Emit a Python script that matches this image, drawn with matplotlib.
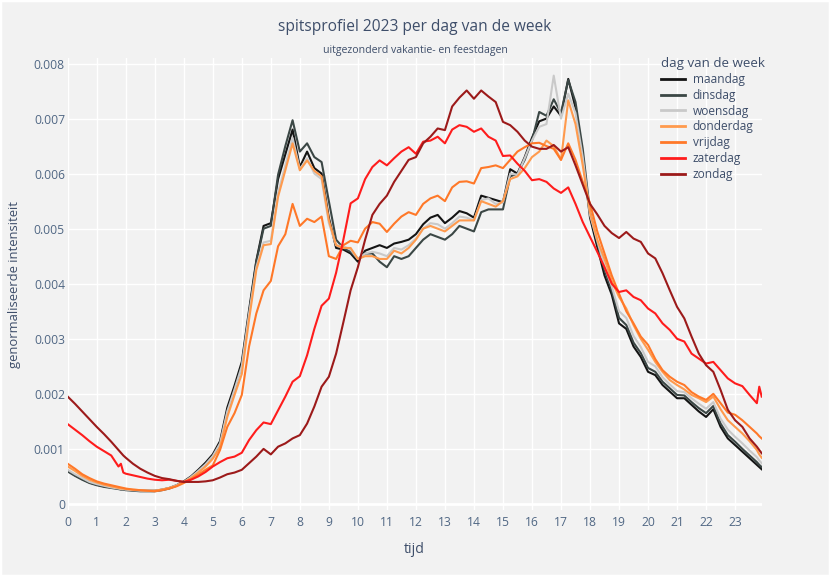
import matplotlib
matplotlib.use("Agg")
import matplotlib.pyplot as plt
from matplotlib.patches import Rectangle

# ---------------- data ----------------
hours = ([i / 4 for i in range(8)] + [1.833, 1.917]
         + [i / 4 for i in range(8, 96)] + [23.833, 23.917])

maandag = [
    0.00060, 0.00052, 0.00045, 0.00039, 0.00035, 0.00032, 0.00030, 0.00028,
    0.00027, 0.00027,
    0.00026, 0.00025, 0.00024, 0.00024, 0.00024, 0.00026, 0.00029, 0.00034,
    0.00041, 0.00050, 0.00062, 0.00075, 0.00090, 0.00114, 0.00175, 0.00215,
    0.00258, 0.00352, 0.00442, 0.00505, 0.00510, 0.00590, 0.00635, 0.00680,
    0.00612, 0.00640, 0.00610, 0.00600, 0.00520, 0.00465, 0.00462, 0.00455,
    0.00440, 0.00460, 0.00465, 0.00470, 0.00465, 0.00473, 0.00476, 0.00480,
    0.00490, 0.00508, 0.00520, 0.00525, 0.00510, 0.00520, 0.00532, 0.00528,
    0.00520, 0.00560, 0.00556, 0.00552, 0.00548, 0.00608, 0.00600, 0.00630,
    0.00665, 0.00695, 0.00700, 0.00722, 0.00705, 0.00772, 0.00720, 0.00630,
    0.00520, 0.00467, 0.00415, 0.00380, 0.00328, 0.00318, 0.00286, 0.00267,
    0.00240, 0.00234, 0.00216, 0.00204, 0.00192, 0.00192, 0.00180, 0.00168,
    0.00158, 0.00172, 0.00140, 0.00119, 0.00107, 0.00095, 0.00083, 0.00071,
    0.00067, 0.00063]

dinsdag = [
    0.00059, 0.00051, 0.00044, 0.00038, 0.00034, 0.00031, 0.00029, 0.00027,
    0.00026, 0.00026,
    0.00025, 0.00024, 0.00023, 0.00023, 0.00023, 0.00025, 0.00028, 0.00033,
    0.00040, 0.00048, 0.00059, 0.00071, 0.00086, 0.00108, 0.00168, 0.00208,
    0.00252, 0.00345, 0.00440, 0.00500, 0.00505, 0.00598, 0.00650, 0.00697,
    0.00640, 0.00655, 0.00630, 0.00621, 0.00550, 0.00480, 0.00465, 0.00458,
    0.00445, 0.00455, 0.00455, 0.00440, 0.00430, 0.00450, 0.00445, 0.00450,
    0.00465, 0.00480, 0.00490, 0.00485, 0.00480, 0.00490, 0.00505, 0.00500,
    0.00495, 0.00530, 0.00535, 0.00535, 0.00535, 0.00595, 0.00600, 0.00625,
    0.00660, 0.00712, 0.00705, 0.00735, 0.00710, 0.00770, 0.00730, 0.00645,
    0.00530, 0.00475, 0.00425, 0.00388, 0.00338, 0.00325, 0.00293, 0.00274,
    0.00247, 0.00240, 0.00222, 0.00210, 0.00198, 0.00197, 0.00185, 0.00174,
    0.00165, 0.00178, 0.00146, 0.00125, 0.00113, 0.00100, 0.00088, 0.00076,
    0.00071, 0.00067]

woensdag = [
    0.00062, 0.00054, 0.00047, 0.00040, 0.00036, 0.00033, 0.00030, 0.00028,
    0.00027, 0.00027,
    0.00026, 0.00025, 0.00024, 0.00024, 0.00024, 0.00026, 0.00029, 0.00034,
    0.00040, 0.00049, 0.00060, 0.00072, 0.00087, 0.00110, 0.00168, 0.00208,
    0.00250, 0.00345, 0.00430, 0.00475, 0.00478, 0.00565, 0.00615, 0.00665,
    0.00608, 0.00628, 0.00600, 0.00590, 0.00510, 0.00470, 0.00468, 0.00462,
    0.00445, 0.00455, 0.00458, 0.00455, 0.00450, 0.00465, 0.00462, 0.00470,
    0.00482, 0.00500, 0.00510, 0.00508, 0.00500, 0.00510, 0.00522, 0.00520,
    0.00515, 0.00552, 0.00555, 0.00545, 0.00548, 0.00600, 0.00598, 0.00628,
    0.00660, 0.00685, 0.00690, 0.00778, 0.00700, 0.00745, 0.00710, 0.00630,
    0.00525, 0.00478, 0.00432, 0.00395, 0.00350, 0.00338, 0.00305, 0.00285,
    0.00258, 0.00250, 0.00230, 0.00217, 0.00205, 0.00203, 0.00192, 0.00182,
    0.00173, 0.00185, 0.00155, 0.00135, 0.00122, 0.00110, 0.00097, 0.00085,
    0.00079, 0.00074]

donderdag = [
    0.00068, 0.00060, 0.00051, 0.00044, 0.00039, 0.00035, 0.00032, 0.00029,
    0.00028, 0.00028,
    0.00027, 0.00026, 0.00025, 0.00024, 0.00024, 0.00026, 0.00029, 0.00033,
    0.00040, 0.00047, 0.00057, 0.00068, 0.00082, 0.00103, 0.00158, 0.00198,
    0.00236, 0.00335, 0.00425, 0.00470, 0.00472, 0.00558, 0.00606, 0.00655,
    0.00606, 0.00624, 0.00605, 0.00595, 0.00515, 0.00470, 0.00465, 0.00465,
    0.00445, 0.00450, 0.00450, 0.00445, 0.00445, 0.00460, 0.00455, 0.00465,
    0.00480, 0.00500, 0.00505, 0.00500, 0.00495, 0.00505, 0.00515, 0.00515,
    0.00515, 0.00550, 0.00545, 0.00540, 0.00550, 0.00590, 0.00595, 0.00610,
    0.00630, 0.00640, 0.00660, 0.00650, 0.00625, 0.00733, 0.00690, 0.00615,
    0.00530, 0.00480, 0.00445, 0.00405, 0.00376, 0.00355, 0.00325, 0.00300,
    0.00280, 0.00258, 0.00240, 0.00225, 0.00216, 0.00208, 0.00198, 0.00192,
    0.00185, 0.00195, 0.00172, 0.00152, 0.00140, 0.00128, 0.00114, 0.00098,
    0.00090, 0.00084]

vrijdag = [
    0.00073, 0.00064, 0.00054, 0.00047, 0.00041, 0.00037, 0.00034, 0.00031,
    0.00030, 0.00029,
    0.00028, 0.00026, 0.00025, 0.00024, 0.00023, 0.00025, 0.00028, 0.00032,
    0.00038, 0.00045, 0.00053, 0.00062, 0.00070, 0.00098, 0.00140, 0.00165,
    0.00198, 0.00286, 0.00346, 0.00388, 0.00405, 0.00468, 0.00490, 0.00545,
    0.00505, 0.00518, 0.00512, 0.00522, 0.00450, 0.00445, 0.00470, 0.00478,
    0.00475, 0.00500, 0.00512, 0.00509, 0.00494, 0.00509, 0.00522, 0.00530,
    0.00525, 0.00545, 0.00555, 0.00560, 0.00550, 0.00575, 0.00585, 0.00586,
    0.00582, 0.00610, 0.00612, 0.00615, 0.00610, 0.00625, 0.00640, 0.00648,
    0.00655, 0.00656, 0.00650, 0.00645, 0.00625, 0.00655, 0.00625, 0.00585,
    0.00546, 0.00495, 0.00455, 0.00415, 0.00382, 0.00350, 0.00328, 0.00304,
    0.00289, 0.00263, 0.00243, 0.00231, 0.00222, 0.00216, 0.00203, 0.00195,
    0.00189, 0.00200, 0.00183, 0.00166, 0.00162, 0.00152, 0.00140, 0.00128,
    0.00123, 0.00119]

zaterdag = [
    0.00145, 0.00135, 0.00125, 0.00114, 0.00104, 0.00096, 0.00088, 0.00068,
    0.00073, 0.00057,
    0.00055, 0.00052, 0.00049, 0.00046, 0.00044, 0.00043, 0.00044, 0.00042,
    0.00040, 0.00044, 0.00050, 0.00058, 0.00068, 0.00076, 0.00083, 0.00086,
    0.00093, 0.00116, 0.00134, 0.00148, 0.00145, 0.00170, 0.00195, 0.00222,
    0.00232, 0.00270, 0.00318, 0.00360, 0.00373, 0.00420, 0.00480, 0.00546,
    0.00555, 0.00590, 0.00612, 0.00624, 0.00615, 0.00628, 0.00640, 0.00648,
    0.00636, 0.00658, 0.00660, 0.00667, 0.00655, 0.00680, 0.00688, 0.00685,
    0.00676, 0.00682, 0.00667, 0.00660, 0.00632, 0.00633, 0.00618, 0.00605,
    0.00588, 0.00590, 0.00585, 0.00573, 0.00565, 0.00575, 0.00545, 0.00512,
    0.00485, 0.00458, 0.00430, 0.00400, 0.00385, 0.00388, 0.00376, 0.00370,
    0.00355, 0.00346, 0.00328, 0.00316, 0.00300, 0.00295, 0.00273, 0.00264,
    0.00255, 0.00258, 0.00243, 0.00228, 0.00219, 0.00214, 0.00198, 0.00183,
    0.00213, 0.00195]

zondag = [
    0.00195, 0.00182, 0.00168, 0.00154, 0.00140, 0.00127, 0.00113, 0.00098,
    0.00093, 0.00088,
    0.00084, 0.00073, 0.00064, 0.00057, 0.00051, 0.00047, 0.00045, 0.00042,
    0.00040, 0.00040, 0.00040, 0.00041, 0.00043, 0.00048, 0.00054, 0.00057,
    0.00062, 0.00074, 0.00086, 0.00100, 0.00090, 0.00104, 0.00110, 0.00119,
    0.00125, 0.00146, 0.00177, 0.00213, 0.00231, 0.00273, 0.00330, 0.00388,
    0.00430, 0.00480, 0.00525, 0.00545, 0.00560, 0.00585, 0.00605, 0.00625,
    0.00630, 0.00655, 0.00667, 0.00682, 0.00679, 0.00722, 0.00738, 0.00751,
    0.00736, 0.00751, 0.00740, 0.00730, 0.00694, 0.00688, 0.00676, 0.00660,
    0.00649, 0.00645, 0.00645, 0.00652, 0.00640, 0.00648, 0.00615, 0.00580,
    0.00545, 0.00526, 0.00505, 0.00492, 0.00483, 0.00494, 0.00482, 0.00476,
    0.00455, 0.00446, 0.00419, 0.00388, 0.00358, 0.00337, 0.00304, 0.00273,
    0.00252, 0.00240, 0.00207, 0.00171, 0.00152, 0.00140, 0.00119, 0.00104,
    0.00098, 0.00092]

days = ["maandag", "dinsdag", "woensdag", "donderdag", "vrijdag", "zaterdag", "zondag"]
series = [maandag, dinsdag, woensdag, donderdag, vrijdag, zaterdag, zondag]
colors = ["#141414", "#3b4745", "#c9c9c9", "#ff9a4d", "#ff7828", "#ff1c1c", "#9c1a1a"]

x_ticks = list(range(24))
y_ticks = [0, 0.001, 0.002, 0.003, 0.004, 0.005, 0.006, 0.007, 0.008]

# ---------------- figure ----------------
W, H = 830, 576
BG = "#f2f2f2"
TXT = "#3e4e6a"
TICK = "#506784"
plt.rcParams["font.family"] = ["Open Sans", "DejaVu Sans"]

fig = plt.figure(figsize=(W / 100, H / 100), dpi=100, facecolor=BG)
L, R, T, B = 67.7, 761.7, 58, 510
ax = fig.add_axes([L / W, 1 - B / H, (R - L) / W, (B - T) / H], facecolor=BG)

for name, vals, c in zip(days, series, colors):
    ax.plot(hours, vals, color=c, lw=1.5, label=name, solid_joinstyle="round")

ax.set_xlim(0, 23.917)
ax.set_ylim(-0.00011, 0.0081)
ax.set_xticks(x_ticks)
ax.set_yticks(y_ticks)
ax.set_yticklabels(["0" if v == 0 else f"{v:.3f}" for v in y_ticks])
ax.grid(True, color="white", lw=1.0)
ax.set_axisbelow(True)
ax.axhline(0, color="white", lw=2.0, zorder=0.5)
for s in ax.spines.values():
    s.set_visible(False)
ax.tick_params(length=0, labelsize=8.7, labelcolor=TICK, pad=4)
ax.tick_params(axis="y", pad=2)

ax.set_xlabel("tijd", fontsize=10.2, color=TXT, labelpad=10)
fig.text(15 / W, 1 - 284 / H, "genormaliseerde intensiteit", rotation=90,
         ha="center", va="center", fontsize=9.4, color=TXT)

fig.text(415 / W, 1 - 27 / H, "spitsprofiel 2023 per dag van de week",
         ha="center", va="center", fontsize=11.2, color=TXT)
fig.text(415 / W, 1 - 50 / H, "uitgezonderd vakantie- en feestdagen",
         ha="center", va="center", fontsize=7.6, color=TXT)

leg = ax.legend(loc="upper left", bbox_to_anchor=(661 / W, 1 - 57 / H),
                bbox_transform=fig.transFigure, frameon=False,
                fontsize=8.6, title="dag van de week", title_fontsize=9.6,
                handlelength=2.0, handletextpad=0.65, labelspacing=0.24,
                borderpad=0, borderaxespad=0, alignment="left")
for t in leg.get_texts():
    t.set_color(TXT)
leg.get_title().set_color(TXT)
for ln in leg.get_lines():
    ln.set_linewidth(2.0)

fig.add_artist(Rectangle((0, 0), 1, 1, transform=fig.transFigure, fill=False,
                         edgecolor="white", lw=2.5))

fig.savefig("out.png", dpi=100, facecolor=BG)
